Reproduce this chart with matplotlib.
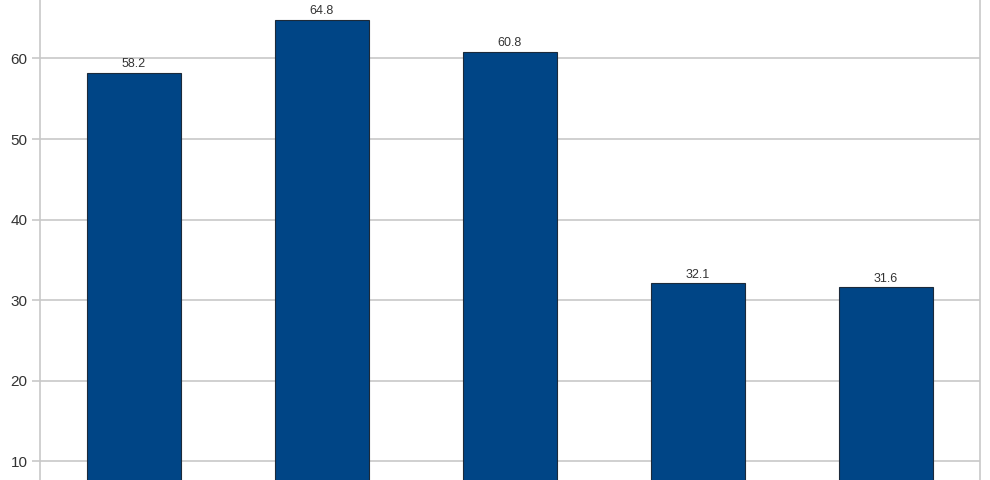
import matplotlib.pyplot as plt
import numpy as np

# values
categories = ['A', 'B', 'C', 'D', 'E']
values = [58.2, 64.8, 60.8, 32.1, 31.6]
yticks = [10, 20, 30, 40, 50, 60]

plt.rcParams['font.family'] = ['Liberation Sans', 'DejaVu Sans']

fig = plt.figure(figsize=(9.9, 4.8), dpi=100)
# plot area runs past the bottom and top of the picture (chart is cropped)
ax = fig.add_axes([40 / 990, 0, 940 / 990, 1])

x = np.arange(len(categories))
bars = ax.bar(x, values, width=0.5, color='#004586', edgecolor='#1c2a3a',
              linewidth=0.8, zorder=3)
for b, v in zip(bars, values):
    ax.annotate(f'{v:.1f}', (b.get_x() + b.get_width() / 2, v),
                xytext=(0, 2), textcoords='offset points',
                ha='center', va='bottom', fontsize=9, color='#333333')

ax.set_xlim(-0.5, len(categories) - 0.5)
ax.set_ylim(7.7, 67.25)
ax.set_yticks(yticks)
ax.set_xticks([])
ax.yaxis.grid(True, color='#c8c8c8', linewidth=1.2, zorder=0)
ax.tick_params(axis='y', length=6, width=1.2, color='#c8c8c8',
               labelsize=11, labelcolor='#333333', pad=3)
for side in ['left', 'right']:
    ax.spines[side].set_color('#c8c8c8')
    ax.spines[side].set_linewidth(1.2)
ax.spines['top'].set_visible(False)
ax.spines['bottom'].set_visible(False)

plt.savefig('out.png', dpi=100)
